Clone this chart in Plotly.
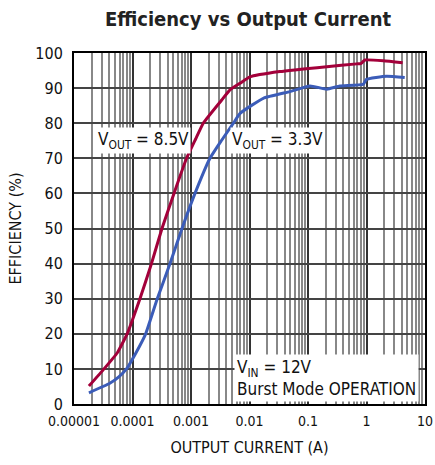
import plotly.graph_objects as go

# --- data ---
current_85 = [1.8e-5, 3.26e-5, 5.5e-5, 8.1e-5, 1.34e-4, 2.11e-4, 3.19e-4, 5.12e-4, 8.4e-4,
              1.2e-3, 1.62e-3, 3.35e-3, 4.64e-3, 6.9e-3, 1.02e-2, 3.3e-2, 0.209, 0.68,
              0.8, 0.94, 1.94, 4.15]
eff_85 = [5.1, 10.0, 14.6, 20.0, 30.0, 40.0, 50.0, 60.0, 70.0,
          75.5, 80.0, 86.6, 89.5, 91.4, 93.2, 94.7, 96.1, 96.9,
          97.0, 98.0, 97.8, 97.2]

current_33 = [1.8e-5, 4.1e-5, 5.9e-5, 7.9e-5, 1.13e-4, 1.68e-4, 2.65e-4, 4.38e-4,
              7.02e-4, 1.17e-3, 2.11e-3, 3.3e-3, 5.3e-3, 6.9e-3, 1.72e-2, 4.9e-2, 0.108,
              0.21, 0.35, 0.88, 1.0, 2.2, 4.5]
eff_33 = [3.2, 5.9, 7.8, 10.0, 14.4, 20.0, 30.0, 40.0,
          50.0, 60.0, 70.0, 75.0, 80.0, 82.8, 87.1, 89.0, 90.6,
          89.7, 90.6, 91.1, 92.5, 93.4, 93.0]

x_tickvals = [1e-5, 1e-4, 1e-3, 1e-2, 1e-1, 1, 10]
x_ticktext = ["0.00001", "0.0001", "0.001", "0.01", "0.1", "1", "10"]
x_minor = [m * 10 ** e for e in range(-5, 1) for m in range(2, 10)]
y_tickvals = list(range(0, 101, 10))

FONT = "DejaVu Sans Condensed, Liberation Sans Narrow, Arial Narrow, sans-serif"
RED = "#a3003a"
BLUE = "#3b5cb8"

fig = go.Figure()
fig.add_trace(go.Scatter(x=current_85, y=eff_85, mode="lines",
                         line=dict(color=RED, width=3, shape="spline", smoothing=0.4),
                         showlegend=False, hoverinfo="skip"))
fig.add_trace(go.Scatter(x=current_33, y=eff_33, mode="lines",
                         line=dict(color=BLUE, width=3, shape="spline", smoothing=0.4),
                         showlegend=False, hoverinfo="skip"))

# labels (white boxes cover the grid)
fig.add_annotation(x=-4.63, y=75, xref="x", yref="y", text="V<sub>OUT</sub> = 8.5V",
                   showarrow=False, bgcolor="white", xanchor="left",
                   font=dict(size=17, color="#111", family=FONT))
fig.add_annotation(x=-2.33, y=75, xref="x", yref="y", text="V<sub>OUT</sub> = 3.3V",
                   showarrow=False, bgcolor="white", xanchor="left",
                   font=dict(size=17, color="#111", family=FONT))
fig.add_annotation(x=-2.27, y=0.6, xref="x", yref="y",
                   text="V<sub>IN</sub> = 12V<br>Burst Mode OPERATION",
                   showarrow=False, bgcolor="white", xanchor="left", yanchor="bottom",
                   align="left", borderpad=2,
                   font=dict(size=17, color="#111", family=FONT))

fig.update_layout(
    width=435, height=465,
    margin=dict(l=74, r=10, t=53, b=61),
    paper_bgcolor="white", plot_bgcolor="white",
    title=dict(text="<b>Efficiency vs Output Current</b>", x=248 / 435, xanchor="center",
               y=1 - 19 / 465, yanchor="middle",
               font=dict(size=20, color="#222", family=FONT)),
    font=dict(family=FONT, size=16, color="#111"),
    xaxis=dict(type="log", range=[-5, 1], tickvals=x_tickvals, ticktext=x_ticktext,
               showgrid=True, gridcolor="#333", gridwidth=1.5,
               minor=dict(showgrid=True, gridcolor="#888", gridwidth=1.5, tickvals=x_minor),
               showline=True, linecolor="black", linewidth=2, mirror=True,
               ticks="", tickfont=dict(size=14), zeroline=False, automargin=False,
               ticklabelstandoff=3,
               title=dict(text="OUTPUT CURRENT (A)", font=dict(size=16), standoff=14)),
    yaxis=dict(range=[0, 100], tickvals=y_tickvals,
               showgrid=True, gridcolor="#444", gridwidth=1.5,
               showline=True, linecolor="black", linewidth=2, mirror=True,
               ticks="", tickfont=dict(size=16), zeroline=False, automargin=False,
               ticklabelstandoff=6,
               title=dict(text="EFFICIENCY (%)", font=dict(size=16), standoff=10)),
)

fig.write_html("out.html", config={"displayModeBar": False},
               post_script="document.body.style.margin='0';")
